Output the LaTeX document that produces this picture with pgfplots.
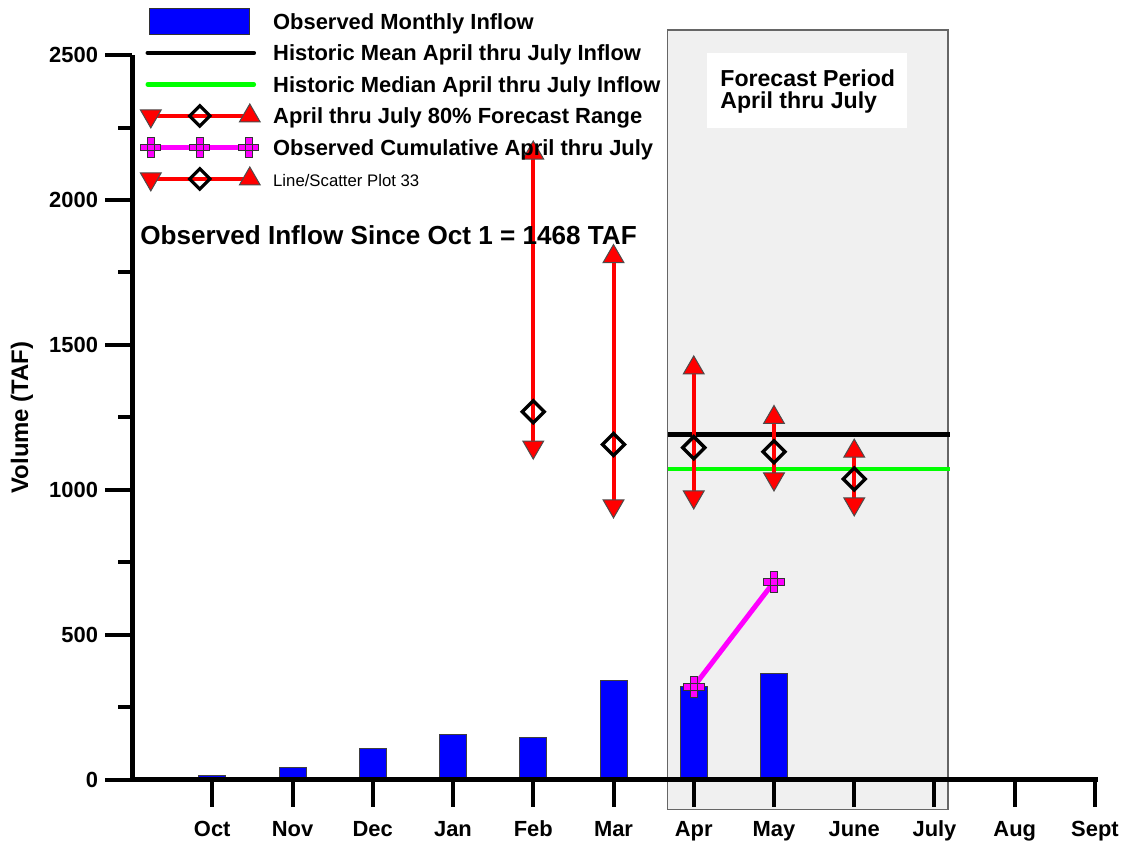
\documentclass[border=0pt]{standalone}
\usepackage{fontspec}
\setmainfont{Liberation Sans}
\usepackage{pgfplots}
\pgfplotsset{compat=1.18}
\definecolor{pureblue}{RGB}{0,0,255}
\definecolor{puregreen}{RGB}{0,255,0}
\definecolor{puremag}{RGB}{255,0,255}
\definecolor{purered}{RGB}{255,0,0}
\pgfdeclareplotmark{fatplus}{%
  \pgfpathmoveto{\pgfqpoint{-0.33\pgfplotmarksize}{\pgfplotmarksize}}%
  \pgfpathlineto{\pgfqpoint{0.33\pgfplotmarksize}{\pgfplotmarksize}}%
  \pgfpathlineto{\pgfqpoint{0.33\pgfplotmarksize}{0.33\pgfplotmarksize}}%
  \pgfpathlineto{\pgfqpoint{\pgfplotmarksize}{0.33\pgfplotmarksize}}%
  \pgfpathlineto{\pgfqpoint{\pgfplotmarksize}{-0.33\pgfplotmarksize}}%
  \pgfpathlineto{\pgfqpoint{0.33\pgfplotmarksize}{-0.33\pgfplotmarksize}}%
  \pgfpathlineto{\pgfqpoint{0.33\pgfplotmarksize}{-\pgfplotmarksize}}%
  \pgfpathlineto{\pgfqpoint{-0.33\pgfplotmarksize}{-\pgfplotmarksize}}%
  \pgfpathlineto{\pgfqpoint{-0.33\pgfplotmarksize}{-0.33\pgfplotmarksize}}%
  \pgfpathlineto{\pgfqpoint{-\pgfplotmarksize}{-0.33\pgfplotmarksize}}%
  \pgfpathlineto{\pgfqpoint{-\pgfplotmarksize}{0.33\pgfplotmarksize}}%
  \pgfpathlineto{\pgfqpoint{-0.33\pgfplotmarksize}{0.33\pgfplotmarksize}}%
  \pgfpathclose
  \pgfusepathqfillstroke
  \pgfpathrectanglecorners{\pgfqpoint{-0.33\pgfplotmarksize}{-0.33\pgfplotmarksize}}{\pgfqpoint{0.33\pgfplotmarksize}{0.33\pgfplotmarksize}}%
  \pgfusepathqstroke
}
\pgfplotstableread{
x lo mid hi
5 1148 1270 2162
6 945 1157 1805
7 976 1146 1421
8 1038 1132 1250
9 952 1038 1134
}\fc
\begin{document}
\begin{tikzpicture}
\begin{axis}[
  scale only axis, width=483bp, height=362.5bp,
  xmin=0, xmax=12.037, ymin=0, ymax=2500,
  axis x line=bottom, axis y line=left,
  axis line style={line width=2.5bp, -},
  axis on top,
  clip=false,
  xtick={1,...,12},
  xticklabels={Oct,Nov,Dec,Jan,Feb,Mar,Apr,May,June,July,Aug,Sept},
  ytick={0,500,...,2500}, minor ytick={250,750,...,2250},
  tick align=outside,
  major tick length=13.5bp, minor tick length=7bp,
  every tick/.style={black, line width=2bp},
  tick label style={font=\fontsize{11}{13}\selectfont\bfseries},
  xticklabel style={yshift=-3.5bp},
  /pgf/number format/assume math mode=true,
  /pgf/number format/1000 sep={},
  ylabel={Volume (TAF)},
  ylabel style={at={(axis description cs:-0.114,0.5)}, anchor=center, font=\fontsize{12}{14}\selectfont\bfseries},
  legend style={at={(axis description cs:0.00828,1.0634)}, anchor=north west,
    draw=none, fill=none, inner sep=0pt, row sep=3.75bp, column sep=6.5bp,
    font=\fontsize{11}{13}\selectfont\bfseries,
    cells={anchor=west},
    nodes={inner sep=0pt, text height=8bp, text depth=0bp}},
]
% forecast period shading
\addplot[fill=black!6, draw=black!60, line width=0.6bp, forget plot]
  coordinates {(6.675,-103) (10.168,-103) (10.168,2586) (6.675,2586)} -- cycle;
\node[fill=white, anchor=north west, minimum width=100bp, minimum height=37.5bp, inner sep=0pt]
  at (axis cs:7.165,2507) {};
\node[anchor=base west, inner sep=0pt, font=\fontsize{11.6}{13}\selectfont\bfseries]
  at (axis cs:7.327,2390) {Forecast Period};
\node[anchor=base west, inner sep=0pt, font=\fontsize{11.6}{13}\selectfont\bfseries]
  at (axis cs:7.327,2314) {April thru July};
% bars
\addplot[ybar, bar width=13.5bp, fill=pureblue, draw=black!75, line width=0.5bp, forget plot]
  coordinates {(1,17) (2,43) (3,108) (4,156) (5,148) (6,344) (7,323) (8,367)};
% mean and median
\addplot[black, line width=2.3bp, forget plot] coordinates {(6.679,1192) (10.193,1192)};
\addplot[puregreen, line width=2.3bp, forget plot] coordinates {(6.679,1073) (10.193,1073)};
% forecast ranges
\addplot[purered, line width=2bp, forget plot] coordinates {(5,1148) (5,2162)};
\addplot[purered, line width=2bp, forget plot] coordinates {(6,945) (6,1805)};
\addplot[purered, line width=2bp, forget plot] coordinates {(7,976) (7,1421)};
\addplot[purered, line width=2bp, forget plot] coordinates {(8,1038) (8,1250)};
\addplot[purered, line width=2bp, forget plot] coordinates {(9,952) (9,1134)};
\addplot[only marks, mark=triangle*, mark size=6bp, mark options={fill=purered, draw=black!70, line width=0.5bp}, forget plot]
  table[x=x, y=hi] {\fc};
\addplot[only marks, mark=triangle*, mark size=6bp, mark options={rotate=180, fill=purered, draw=black!70, line width=0.5bp}, forget plot]
  table[x=x, y=lo] {\fc};
\addplot[only marks, mark=square, mark size=3.9bp, mark options={rotate=45, draw=black, line width=1.7bp}, forget plot]
  table[x=x, y=mid] {\fc};
% cumulative
\addplot[puremag, line width=2.5bp, mark=fatplus, mark size=5.3bp, mark options={fill=puremag, draw=black!80, line width=0.5bp}, forget plot]
  coordinates {(7,322) (8,683)};
% annotation
\node[anchor=base west, inner sep=0pt, font=\fontsize{13.1}{15}\selectfont\bfseries]
  at (axis cs:0.0997,1845) {Observed Inflow Since Oct 1 = 1468 TAF};
% legend
\addlegendimage{legend image code/.code={
  \path[draw=none, fill=none] (0bp,-6bp) rectangle (59bp,6bp);
  \draw[overlay, fill=pureblue, draw=black!80, line width=0.5bp] (4.5bp,-6.5bp) rectangle (54.5bp,6.5bp);}}
\addlegendentry{Observed Monthly Inflow}
\addlegendimage{legend image code/.code={
  \path[draw=none, fill=none] (0bp,-6bp) rectangle (59bp,6bp);
  \draw[black, line width=2.3bp, line cap=round] (3.5bp,0bp) -- (56.5bp,0bp);}}
\addlegendentry{Historic Mean April thru July Inflow}
\addlegendimage{legend image code/.code={
  \path[draw=none, fill=none] (0bp,-6bp) rectangle (59bp,6bp);
  \draw[puregreen, line width=2.3bp, line cap=round] (3.5bp,0bp) -- (56.5bp,0bp);}}
\addlegendentry{Historic Median April thru July Inflow}
\addlegendimage{legend image code/.code={
  \path[draw=none, fill=none] (0bp,-6bp) rectangle (59bp,6bp);
  \draw[purered, line width=2bp] (5bp,0bp) -- (54.5bp,0bp);
  \draw plot[only marks, mark=triangle*, mark size=6bp, mark options={rotate=180, fill=purered, draw=black!70, line width=0.5bp}] coordinates {(5bp,0bp)};
  \draw plot[only marks, mark=triangle*, mark size=6bp, mark options={fill=purered, draw=black!70, line width=0.5bp}] coordinates {(54.5bp,0bp)};
  \draw plot[only marks, mark=square, mark size=3.6bp, mark options={rotate=45, draw=black, line width=1.6bp}] coordinates {(29.5bp,0bp)};}}
\addlegendentry{April thru July 80\% Forecast Range}
\addlegendimage{legend image code/.code={
  \path[draw=none, fill=none] (0bp,-6bp) rectangle (59bp,6bp);
  \draw[puremag, line width=2.5bp] (5bp,0bp) -- (54bp,0bp);
  \draw plot[only marks, mark=fatplus, mark size=5bp, mark options={fill=puremag, draw=black!80, line width=0.5bp}] coordinates {(5bp,0bp) (29.5bp,0bp) (54bp,0bp)};}}
\addlegendentry{Observed Cumulative April thru July}
\addlegendimage{legend image code/.code={
  \path[draw=none, fill=none] (0bp,-6bp) rectangle (59bp,6bp);
  \draw[purered, line width=2bp] (5bp,0bp) -- (54.5bp,0bp);
  \draw plot[only marks, mark=triangle*, mark size=6bp, mark options={rotate=180, fill=purered, draw=black!70, line width=0.5bp}] coordinates {(5bp,0bp)};
  \draw plot[only marks, mark=triangle*, mark size=6bp, mark options={fill=purered, draw=black!70, line width=0.5bp}] coordinates {(54.5bp,0bp)};
  \draw plot[only marks, mark=square, mark size=3.6bp, mark options={rotate=45, draw=black, line width=1.6bp}] coordinates {(29.5bp,0bp)};}}
\addlegendentry{\fontsize{8.4}{10}\selectfont\mdseries Line/Scatter Plot 33}
\coordinate (bbsw) at (axis cs:-1.645,-213.8);
\coordinate (bbne) at (axis cs:12.399,2689.7);
\end{axis}
\pgfresetboundingbox
\path[use as bounding box] (bbsw) rectangle (bbne);
\end{tikzpicture}
\end{document}
